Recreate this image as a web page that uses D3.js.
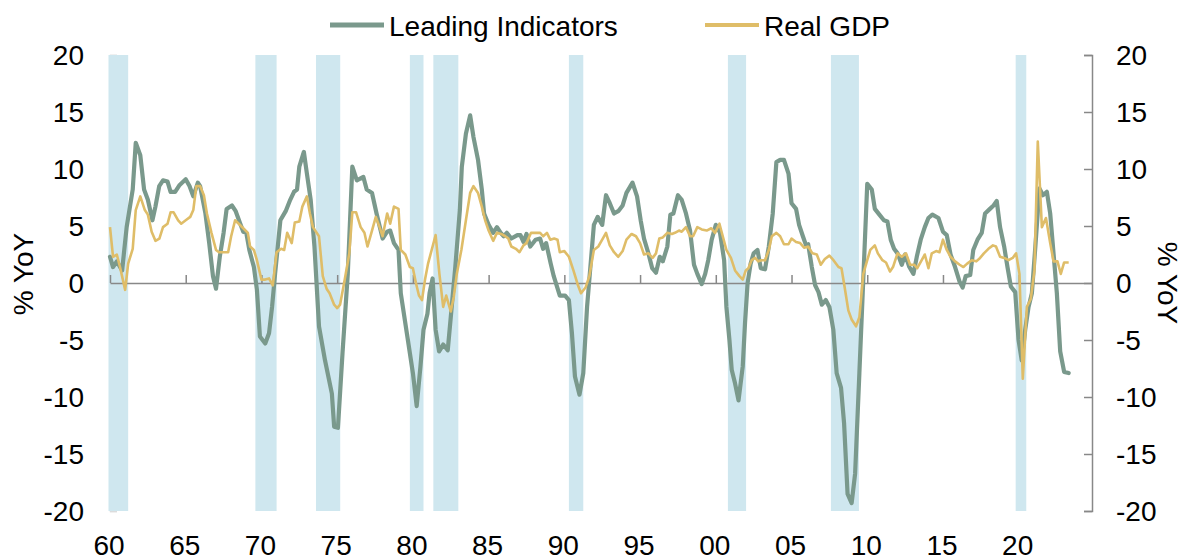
<!DOCTYPE html>
<html><head><meta charset="utf-8">
<script src="https://cdn.jsdelivr.net/npm/d3@7"></script>
<style>
body{margin:0;background:#fff;}
text{font-family:"Liberation Sans",Arial,sans-serif;fill:#000;}
</style></head>
<body><svg id="c" width="1194" height="560"></svg>
<script>
// ---- data (decimal years, % YoY) ----
const liDates = [1960.0,1960.2,1960.45,1960.8,1961.1,1961.5,1961.7,1962.0,1962.25,1962.5,1962.8,1963.0,1963.25,1963.5,1963.8,1964.0,1964.3,1964.6,1965.0,1965.25,1965.5,1965.8,1965.95,1966.3,1966.55,1966.8,1967.0,1967.25,1967.5,1967.7,1968.05,1968.3,1968.6,1968.8,1969.0,1969.2,1969.5,1969.7,1969.9,1970.25,1970.5,1970.7,1970.9,1971.25,1971.6,1971.9,1972.15,1972.35,1972.5,1972.8,1973.0,1973.25,1973.5,1973.8,1974.2,1974.65,1974.8,1975.05,1975.35,1975.7,1976.0,1976.3,1976.73,1976.95,1977.3,1977.6,1978.0,1978.3,1978.5,1978.75,1979.05,1979.2,1979.6,1980.0,1980.25,1980.5,1980.7,1980.96,1981.1,1981.3,1981.5,1981.73,1982.0,1982.3,1982.5,1982.8,1983.1,1983.23,1983.5,1983.78,1984.0,1984.3,1984.55,1984.7,1985.0,1985.3,1985.55,1985.8,1986.0,1986.2,1986.5,1986.9,1987.1,1987.3,1987.5,1987.75,1988.1,1988.4,1988.6,1988.8,1989.1,1989.3,1989.7,1990.05,1990.3,1990.5,1990.7,1991.0,1991.25,1991.5,1991.95,1992.2,1992.5,1992.75,1993.0,1993.28,1993.56,1993.85,1994.1,1994.5,1994.8,1995.04,1995.26,1995.55,1995.8,1996.05,1996.3,1996.5,1996.8,1997.0,1997.2,1997.5,1997.75,1998.03,1998.3,1998.56,1998.78,1999.07,1999.3,1999.5,1999.73,2000.0,2000.28,2000.55,2000.7,2000.9,2001.05,2001.27,2001.5,2001.78,2001.93,2002.1,2002.3,2002.5,2002.75,2002.97,2003.25,2003.5,2003.76,2004.0,2004.25,2004.5,2004.8,2005.0,2005.3,2005.5,2005.75,2005.96,2006.1,2006.34,2006.56,2006.78,2007.0,2007.26,2007.5,2007.76,2007.98,2008.27,2008.47,2008.7,2008.97,2009.2,2009.48,2009.7,2010.0,2010.3,2010.5,2010.8,2011.1,2011.33,2011.55,2011.77,2012.0,2012.28,2012.5,2012.78,2013.05,2013.27,2013.53,2013.8,2014.04,2014.3,2014.7,2015.0,2015.25,2015.5,2015.8,2016.1,2016.3,2016.5,2016.8,2017.0,2017.28,2017.56,2017.78,2018.1,2018.34,2018.55,2018.77,2019.04,2019.26,2019.48,2019.77,2019.99,2020.2,2020.43,2020.65,2020.87,2021.1,2021.37,2021.6,2021.86,2022.08,2022.3,2022.52,2022.74,2023.0,2023.3];
const liValues = [2.3,1.4,1.9,1.1,4.9,8.2,12.3,11.2,8.2,7.3,5.5,6.7,8.5,9.0,8.9,8.0,8.0,8.6,9.1,8.5,7.6,8.8,8.5,6.1,3.5,0.6,-0.5,2.3,4.4,6.5,6.8,6.3,5.2,4.5,4.4,2.9,1.4,-0.6,-4.7,-5.3,-4.4,-2.1,0.8,5.5,6.3,7.3,8.0,8.2,10.2,11.5,9.6,7.3,3.2,-3.8,-6.8,-9.7,-12.6,-12.7,-6.2,0.8,10.2,9.0,9.3,8.2,7.9,6.1,3.9,4.5,4.6,3.5,2.9,-0.9,-4.4,-7.9,-10.8,-7.3,-4.1,-2.7,-0.9,0.4,-4.1,-6.0,-5.4,-5.9,-3.0,1.4,6.4,10.2,13.1,14.7,12.8,10.8,8.2,6.1,5.1,4.4,4.9,4.4,4.1,4.4,3.9,4.2,4.2,3.6,4.3,3.2,3.8,3.9,3.0,3.5,1.7,0.6,-1.1,-1.1,-1.5,-4.4,-8.2,-9.8,-7.9,-2.1,5.1,5.8,5.1,7.7,7.0,6.1,6.3,6.8,7.9,8.8,7.6,5.5,3.9,2.6,1.3,0.9,2.3,1.9,3.2,6.0,6.1,7.7,7.3,6.1,4.6,1.6,0.8,-0.1,0.8,2.0,3.8,5.1,4.4,2.0,-2.1,-5.0,-7.6,-8.8,-10.3,-7.3,-3.5,0.0,1.7,2.6,2.9,1.3,1.2,3.2,6.1,10.6,10.8,10.8,9.6,7.0,6.5,5.1,4.1,3.3,3.4,1.4,-0.2,-0.8,-1.9,-1.5,-2.1,-4.1,-7.9,-9.2,-12.3,-18.5,-19.3,-16.7,-7.9,-0.9,8.7,8.2,6.5,6.0,5.5,5.4,3.8,3.0,2.6,1.6,2.5,1.4,0.8,2.3,3.8,4.9,5.7,6.0,5.7,4.5,4.2,2.5,1.4,0.1,-0.4,0.6,0.7,2.9,3.8,4.4,6.1,6.5,6.8,7.2,4.9,3.2,1.4,-0.3,-0.8,-5.0,-6.8,-4.1,-2.1,-0.9,3.2,8.3,7.7,8.0,6.1,2.6,-0.9,-6.0,-7.8,-7.9];

const gdpDates = [1960.0,1960.2,1960.45,1960.66,1961.0,1961.2,1961.5,1961.7,1962.0,1962.3,1962.5,1962.75,1963.0,1963.26,1963.5,1963.8,1964.0,1964.2,1964.5,1964.7,1965.0,1965.3,1965.5,1965.7,1965.95,1966.2,1966.4,1966.7,1967.0,1967.2,1967.5,1967.8,1968.0,1968.26,1968.5,1968.8,1969.1,1969.25,1969.5,1969.7,1970.0,1970.25,1970.5,1970.75,1971.0,1971.3,1971.5,1971.7,1972.0,1972.2,1972.5,1972.7,1973.0,1973.2,1973.4,1973.8,1974.05,1974.3,1974.5,1974.8,1975.0,1975.19,1975.5,1975.8,1976.0,1976.25,1976.55,1976.8,1977.0,1977.3,1977.55,1977.8,1978.0,1978.3,1978.5,1978.75,1979.05,1979.2,1979.5,1979.8,1980.0,1980.2,1980.4,1980.6,1980.8,1981.0,1981.3,1981.5,1981.75,1982.0,1982.2,1982.5,1982.7,1982.9,1983.2,1983.5,1983.78,1984.0,1984.3,1984.55,1984.77,1985.0,1985.3,1985.55,1985.83,1986.1,1986.3,1986.5,1986.8,1987.04,1987.3,1987.5,1987.8,1988.08,1988.4,1988.6,1988.85,1989.07,1989.33,1989.55,1989.7,1990.0,1990.3,1990.6,1990.9,1991.1,1991.4,1991.65,1991.95,1992.24,1992.5,1992.75,1993.0,1993.28,1993.56,1993.85,1994.1,1994.44,1994.73,1995.0,1995.26,1995.55,1995.83,1996.05,1996.27,1996.5,1996.8,1997.1,1997.3,1997.57,1997.75,1998.03,1998.3,1998.5,1998.78,1999.07,1999.4,1999.7,1999.95,2000.24,2000.46,2000.7,2001.0,2001.27,2001.56,2001.78,2001.98,2002.15,2002.37,2002.6,2002.8,2003.0,2003.25,2003.5,2003.7,2004.0,2004.25,2004.5,2004.8,2005.0,2005.3,2005.57,2005.83,2006.1,2006.38,2006.67,2006.93,2007.2,2007.5,2007.77,2008.1,2008.3,2008.5,2008.75,2008.97,2009.26,2009.48,2009.74,2010.0,2010.2,2010.5,2010.7,2011.0,2011.24,2011.5,2011.7,2012.0,2012.28,2012.56,2012.83,2013.1,2013.3,2013.55,2013.8,2014.04,2014.26,2014.55,2014.77,2015.0,2015.25,2015.5,2015.8,2016.1,2016.35,2016.6,2016.9,2017.2,2017.45,2017.7,2018.0,2018.3,2018.5,2018.77,2019.04,2019.33,2019.6,2019.83,2020.05,2020.27,2020.54,2020.8,2021.04,2021.26,2021.53,2021.8,2022.08,2022.3,2022.56,2022.78,2023.0,2023.3];
const gdpValues = [4.9,2.3,2.5,1.4,-0.6,1.7,3.0,6.4,7.6,6.4,6.0,4.5,3.7,3.9,4.9,5.2,6.2,6.2,5.5,5.2,5.5,5.8,6.4,8.5,8.5,7.7,6.1,4.4,2.9,2.7,2.7,2.7,4.1,5.5,5.2,4.8,4.4,3.2,2.9,2.0,0.3,0.3,0.4,-0.2,2.7,3.0,2.9,4.4,3.5,5.3,5.4,6.7,7.6,6.1,4.9,4.1,0.6,-0.5,-0.9,-1.9,-2.2,-1.9,0.3,2.6,6.2,6.2,4.9,4.4,3.2,4.6,5.8,4.9,4.1,6.1,5.2,6.7,6.5,2.9,2.5,1.4,1.3,0.0,-1.1,-1.5,0.3,1.7,3.2,4.2,0.8,-2.1,-1.1,-2.5,-1.2,0.8,2.9,5.5,7.9,8.5,7.9,6.7,5.5,4.6,3.7,4.4,4.3,4.1,3.9,3.2,3.0,2.7,3.3,3.5,4.4,4.4,4.4,4.1,4.4,3.8,3.9,3.8,2.7,2.8,2.3,1.1,-0.2,-0.9,-0.4,0.6,2.9,3.2,3.8,4.4,3.3,2.7,2.3,2.8,3.8,4.3,4.1,3.5,2.5,2.6,2.2,2.6,3.9,4.0,4.4,4.3,4.4,4.6,4.5,4.9,4.1,4.1,4.9,4.7,4.6,4.8,4.4,5.2,4.1,2.9,2.2,1.1,0.6,0.3,1.1,1.3,2.0,2.2,1.9,2.0,2.0,2.9,4.1,4.4,4.1,3.4,3.4,3.9,3.6,3.5,3.1,3.2,2.6,2.5,1.6,2.1,2.4,2.0,1.4,1.3,-0.3,-2.4,-3.2,-3.8,-3.0,0.8,2.0,2.9,3.3,2.6,2.0,1.8,1.0,1.4,2.6,2.3,2.6,1.6,1.6,1.3,1.9,2.5,1.3,2.6,2.8,2.7,3.8,2.9,2.3,1.9,1.6,1.4,1.7,2.0,1.9,2.2,2.6,3.0,3.3,3.2,2.3,2.2,2.0,2.2,2.6,0.8,-8.4,-2.1,-1.4,1.1,12.4,4.9,5.7,3.5,1.9,1.9,0.8,1.8,1.8];

// recession shading [start, end] in decimal years
const recStart = [1959.9,1969.6,1973.6,1979.8,1981.35,1990.3,2000.8,2007.6,2019.8];
const recEnd   = [1961.2,1971.0,1975.2,1980.7,1983.0,1991.25,2002.0,2009.45,2020.5];

const yTicks = [-20,-15,-10,-5,0,5,10,15,20];
const xTicks = [1960,1965,1970,1975,1980,1985,1990,1995,2000,2005,2010,2015,2020];
const seriesNames = ["Leading Indicators","Real GDP"];

// ---- drawing ----
const svg = d3.select("#c");
const L = 110, R = 1092, T = 55, B = 511;
const FS = 28;
const x = d3.scaleLinear().domain([1960, 2024.84]).range([L, R]);
const y = d3.scaleLinear().domain([-20, 20]).range([B, T]);
const liColor = "#7a998c", gdpColor = "#dfbd68", bandColor = "#cfe7ef", axisColor = "#888";

svg.append("clipPath").attr("id","pc").append("rect")
  .attr("x", L-2).attr("y", T).attr("width", R-L+2).attr("height", B-T);

// left axis (light)
const la = svg.append("g").attr("transform",`translate(${L},0)`)
  .call(d3.axisRight(y).tickValues(yTicks).tickSize(7).tickFormat(""));
la.select(".domain").attr("stroke","#dcdcdc").attr("stroke-width",1.5);
la.selectAll(".tick line").attr("stroke","#dcdcdc").attr("stroke-width",1.5);

// recession bands
svg.append("g").attr("clip-path","url(#pc)").selectAll("rect").data(recStart).join("rect")
  .attr("x", (d)=>x(d)).attr("width",(d,i)=>x(recEnd[i])-x(d))
  .attr("y", T).attr("height", B-T).attr("fill", bandColor);

// left tick labels
svg.append("g").selectAll("text").data(yTicks).join("text")
  .attr("x", 84).attr("y", d=>y(d)).attr("dy","0.36em").attr("text-anchor","end")
  .attr("font-size",FS).text(d=>d);

// right axis
const ra = svg.append("g").attr("transform",`translate(${R},0)`)
  .call(d3.axisLeft(y).tickValues(yTicks).tickSize(8).tickSizeOuter(8).tickFormat(""));
ra.select(".domain").attr("stroke",axisColor).attr("stroke-width",1.5);
ra.selectAll(".tick line").attr("stroke",axisColor).attr("stroke-width",1.5);
svg.append("g").selectAll("text").data(yTicks).join("text")
  .attr("x", 1116).attr("y", d=>y(d)).attr("dy","0.36em").attr("text-anchor","start")
  .attr("font-size",FS).text(d=>d);

// zero line x-axis with upward ticks
const xa = svg.append("g").attr("transform",`translate(0,${y(0)})`)
  .call(d3.axisTop(x).tickValues(xTicks).tickSize(8).tickSizeOuter(0).tickFormat(""));
xa.select(".domain").attr("stroke",axisColor).attr("stroke-width",1.5);
xa.selectAll(".tick line").attr("stroke",axisColor).attr("stroke-width",1.5);

// x labels at bottom
svg.append("g").selectAll("text").data(xTicks).join("text")
  .attr("x", d=>x(d)-1).attr("y", 555).attr("text-anchor","middle")
  .attr("font-size",FS).text(d=>String(d%100).padStart(2,"0"));

// lines
const liData = liDates.map((d,i)=>[d, liValues[i]]);
const gdpData = gdpDates.map((d,i)=>[d, gdpValues[i]]);
const line = d3.line().x(d=>x(d[0])).y(d=>y(d[1]));
svg.append("path").datum(liData).attr("d", line).attr("fill","none")
  .attr("stroke", liColor).attr("stroke-width",4.2).attr("stroke-linejoin","round").attr("stroke-linecap","round");
svg.append("path").datum(gdpData).attr("d", line).attr("fill","none")
  .attr("stroke", gdpColor).attr("stroke-width",2.6).attr("stroke-linejoin","round");

// axis titles
svg.append("text").attr("transform","translate(33,274) rotate(-90)")
  .attr("text-anchor","middle").attr("font-size",FS).text("% YoY");
svg.append("text").attr("transform","translate(1158,283) rotate(90)")
  .attr("text-anchor","middle").attr("font-size",FS).text("% YoY");

// legend
const lg = svg.append("g");
lg.append("line").attr("x1",330).attr("x2",384).attr("y1",25).attr("y2",25)
  .attr("stroke",liColor).attr("stroke-width",5);
lg.append("text").attr("x",389).attr("y",35.5).attr("font-size",FS).text(seriesNames[0]);
lg.append("line").attr("x1",705).attr("x2",759).attr("y1",25).attr("y2",25)
  .attr("stroke",gdpColor).attr("stroke-width",4);
lg.append("text").attr("x",764).attr("y",35.5).attr("font-size",FS).text(seriesNames[1]);
</script></body></html>
